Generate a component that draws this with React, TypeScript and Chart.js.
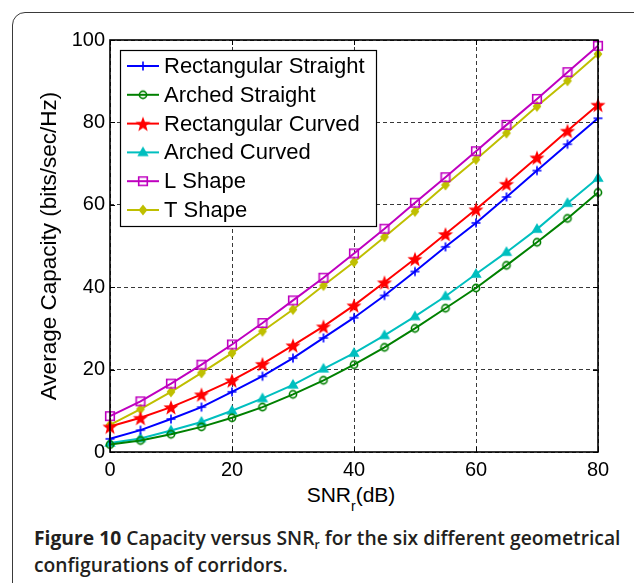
import React, { useEffect, useRef } from "react";
import { Chart, registerables } from "chart.js";

Chart.register(...registerables);

// ---- data ----
const snr = [0, 5, 10, 15, 20, 25, 30, 35, 40, 45, 50, 55, 60, 65, 70, 75, 80];
const seriesNames = [
  "Rectangular Straight",
  "Arched Straight",
  "Rectangular Curved",
  "Arched Curved",
  "L Shape",
  "T Shape",
];
const rectStraight = [3.2, 5.3, 8.0, 10.9, 14.6, 18.4, 22.8, 27.7, 32.6, 38.0, 43.8, 49.8, 55.6, 61.9, 68.3, 74.7, 81.0];
const archedStraight = [1.8, 2.8, 4.3, 6.1, 8.3, 10.9, 14.0, 17.4, 21.2, 25.4, 30.0, 34.9, 39.8, 45.3, 50.9, 56.7, 63.0];
const rectCurved = [6.2, 8.3, 10.9, 14.0, 17.4, 21.4, 25.9, 30.5, 35.6, 41.2, 46.9, 52.9, 58.9, 65.1, 71.5, 78.0, 84.3];
const archedCurved = [2.2, 3.3, 5.2, 7.3, 10.0, 13.0, 16.3, 20.2, 24.0, 28.3, 32.9, 37.8, 43.2, 48.5, 54.1, 60.4, 66.5];
const lShape = [8.7, 12.3, 16.6, 21.2, 26.1, 31.3, 36.8, 42.3, 48.2, 54.2, 60.5, 66.7, 73.0, 79.4, 85.7, 92.2, 98.6];
const tShape = [6.6, 10.4, 14.6, 19.2, 24.0, 29.3, 34.6, 40.4, 46.1, 52.2, 58.4, 64.8, 71.0, 77.4, 83.9, 90.1, 96.6];
const xTicks = [0, 20, 40, 60, 80];
const yTicks = [0, 20, 40, 60, 80, 100];

const seriesValues = [rectStraight, archedStraight, rectCurved, archedCurved, lShape, tShape];
const seriesColors = ["#0000ff", "#008000", "#ff0000", "#00bfbf", "#bf00bf", "#bfbf00"];
const seriesMarkers = ["plus", "circle", "star", "triangle", "square", "diamond"];

const FONT = '"Liberation Sans", Arial, Helvetica, sans-serif';

function makeMarker(kind: string, color: string): HTMLCanvasElement {
  const c = document.createElement("canvas");
  c.width = 20;
  c.height = 20;
  const ctx = c.getContext("2d")!;
  const cx = 10, cy = 10;
  ctx.strokeStyle = color;
  ctx.fillStyle = color;
  ctx.lineWidth = 1.6;
  ctx.beginPath();
  if (kind === "plus") {
    ctx.moveTo(cx - 4.5, cy); ctx.lineTo(cx + 4.5, cy);
    ctx.moveTo(cx, cy - 4.5); ctx.lineTo(cx, cy + 4.5);
    ctx.stroke();
  } else if (kind === "circle") {
    ctx.arc(cx, cy, 3.6, 0, Math.PI * 2);
    ctx.stroke();
  } else if (kind === "star") {
    const ro = 8, ri = 3.3;
    for (let i = 0; i < 10; i++) {
      const r = i % 2 === 0 ? ro : ri;
      const a = -Math.PI / 2 + (i * Math.PI) / 5;
      const px = cx + r * Math.cos(a), py = cy + 1 + r * Math.sin(a);
      if (i === 0) ctx.moveTo(px, py); else ctx.lineTo(px, py);
    }
    ctx.closePath();
    ctx.fill();
  } else if (kind === "triangle") {
    const r = 6;
    ctx.moveTo(cx, cy - r);
    ctx.lineTo(cx + r * 0.95, cy + r * 0.62);
    ctx.lineTo(cx - r * 0.95, cy + r * 0.62);
    ctx.closePath();
    ctx.fill();
  } else if (kind === "square") {
    ctx.rect(cx - 4.3, cy - 4.3, 8.6, 8.6);
    ctx.stroke();
  } else if (kind === "diamond") {
    const r = 5.5;
    ctx.moveTo(cx, cy - r);
    ctx.lineTo(cx + r * 0.8, cy);
    ctx.lineTo(cx, cy + r);
    ctx.lineTo(cx - r * 0.8, cy);
    ctx.closePath();
    ctx.fill();
  }
  return c;
}

export default function App() {
  const canvasRef = useRef<HTMLCanvasElement | null>(null);

  useEffect(() => {
    if (!canvasRef.current) return;
    const markers = seriesMarkers.map((m, i) => makeMarker(m, seriesColors[i]));

    const datasets = seriesNames.map((name, i) => ({
      label: name,
      data: snr.map((x, j) => ({ x, y: seriesValues[i][j] })),
      borderColor: seriesColors[i],
      backgroundColor: seriesColors[i],
      borderWidth: 2,
      pointStyle: markers[i] as any,
      pointRadius: 5,
      pointHoverRadius: 5,
      tension: 0,
      fill: false,
      clip: false as any,
    }));

    const framePlugin = {
      id: "matlabFrame",
      afterDatasetsDraw(chart: any) {
        const { ctx, chartArea } = chart;
        const { left, right, top, bottom } = chartArea;
        const xs = chart.scales.x;
        const ys = chart.scales.y;
        ctx.save();
        // inward tick marks
        ctx.strokeStyle = "#000";
        ctx.lineWidth = 1;
        ctx.beginPath();
        xTicks.forEach((v) => {
          const px = Math.round(xs.getPixelForValue(v)) + 0.5;
          ctx.moveTo(px, bottom); ctx.lineTo(px, bottom - 5);
          ctx.moveTo(px, top); ctx.lineTo(px, top + 5);
        });
        yTicks.forEach((v) => {
          const py = Math.round(ys.getPixelForValue(v)) + 0.5;
          ctx.moveTo(left, py); ctx.lineTo(left + 5, py);
          ctx.moveTo(right, py); ctx.lineTo(right - 5, py);
        });
        ctx.stroke();
        // axes box
        ctx.lineWidth = 1.6;
        ctx.strokeRect(left, top, right - left, bottom - top);

        // legend
        const lx = 120, ly = 50, lw = 256, lh = 176;
        ctx.fillStyle = "#fff";
        ctx.fillRect(lx, ly, lw, lh);
        ctx.lineWidth = 1.2;
        ctx.strokeStyle = "#000";
        ctx.strokeRect(lx + 0.5, ly + 0.5, lw, lh);
        ctx.font = `22px ${FONT}`;
        ctx.textBaseline = "middle";
        ctx.textAlign = "left";
        seriesNames.forEach((name, i) => {
          const ry = 66 + i * 28.8;
          ctx.strokeStyle = seriesColors[i];
          ctx.lineWidth = 2;
          ctx.beginPath();
          ctx.moveTo(127, ry);
          ctx.lineTo(159, ry);
          ctx.stroke();
          const m = markers[i];
          ctx.drawImage(m, 143 - m.width / 2, ry - m.height / 2);
          ctx.fillStyle = "#000";
          ctx.fillText(name, 164, ry + 1);
        });
        ctx.restore();
      },
    };

    const chart = new Chart(canvasRef.current, {
      type: "line",
      data: { datasets: datasets as any },
      options: {
        animation: false,
        responsive: true,
        maintainAspectRatio: false,
        layout: { padding: { left: 0, top: 40, right: 36, bottom: 0 } },
        plugins: {
          legend: { display: false },
          tooltip: { enabled: false },
          title: { display: false },
        },
        scales: {
          x: {
            type: "linear",
            min: 0,
            max: 80,
            afterBuildTicks: (s: any) => {
              s.ticks = xTicks.map((v) => ({ value: v }));
            },
            afterFit: (s: any) => {
              s.height = 28;
            },
            ticks: {
              color: "#000",
              font: { family: FONT, size: 20 },
              padding: 6,
              maxRotation: 0,
            },
            grid: {
              color: "#222",
              lineWidth: 0.9,
              drawTicks: false,
            },
            border: { display: false, dash: [4, 3] },
            title: { display: false },
          },
          y: {
            type: "linear",
            min: 0,
            max: 100,
            afterBuildTicks: (s: any) => {
              s.ticks = yTicks.map((v) => ({ value: v }));
            },
            afterFit: (s: any) => {
              s.width = 110;
            },
            ticks: {
              color: "#000",
              font: { family: FONT, size: 20 },
              padding: 5,
            },
            grid: {
              color: "#222",
              lineWidth: 0.9,
              drawTicks: false,
            },
            border: { display: false, dash: [4, 3] },
            title: {
              display: true,
              text: "Average Capacity (bits/sec/Hz)",
              color: "#000",
              font: { family: FONT, size: 22.5 },
              padding: { top: 36.5, bottom: 0 },
            },
          },
        },
      },
      plugins: [framePlugin],
    });

    return () => chart.destroy();
  }, []);

  return (
    <div
      style={{
        position: "fixed",
        left: 0,
        top: 0,
        width: 634,
        height: 583,
        overflow: "hidden",
        background: "#fff",
      }}
    >
      <div
        style={{
          position: "absolute",
          left: 12,
          top: 12,
          width: 800,
          height: 800,
          boxSizing: "border-box",
          border: "1.5px solid #3a3a3a",
          borderRadius: 13,
        }}
      />
      <div style={{ position: "absolute", left: 0, top: 0, width: 634, height: 480 }}>
        <canvas ref={canvasRef} />
      </div>
      <div
        style={{
          position: "absolute",
          left: 0,
          top: 484,
          width: 702,
          textAlign: "center",
          fontFamily: FONT,
          fontSize: 21,
          lineHeight: "21px",
          color: "#000",
          whiteSpace: "nowrap",
        }}
      >
        SNR
        <span style={{ fontSize: 14, position: "relative", top: 9 }}>r</span>
        (dB)
      </div>
      <div
        style={{
          position: "absolute",
          left: 34,
          top: 526,
          width: 620,
          fontFamily: '"Open Sans", sans-serif',
          fontSize: 19.3,
          lineHeight: "24px",
          fontWeight: 600,
          color: "#231f20",
          whiteSpace: "nowrap",
        }}
      >
        <span style={{ fontWeight: 700 }}>Figure 10</span> Capacity versus SNR
        <sub style={{ fontSize: 12, verticalAlign: "baseline", position: "relative", top: 4 }}>r</sub> for the six
        different geometrical
        <br />
        configurations of corridors.
      </div>
    </div>
  );
}
